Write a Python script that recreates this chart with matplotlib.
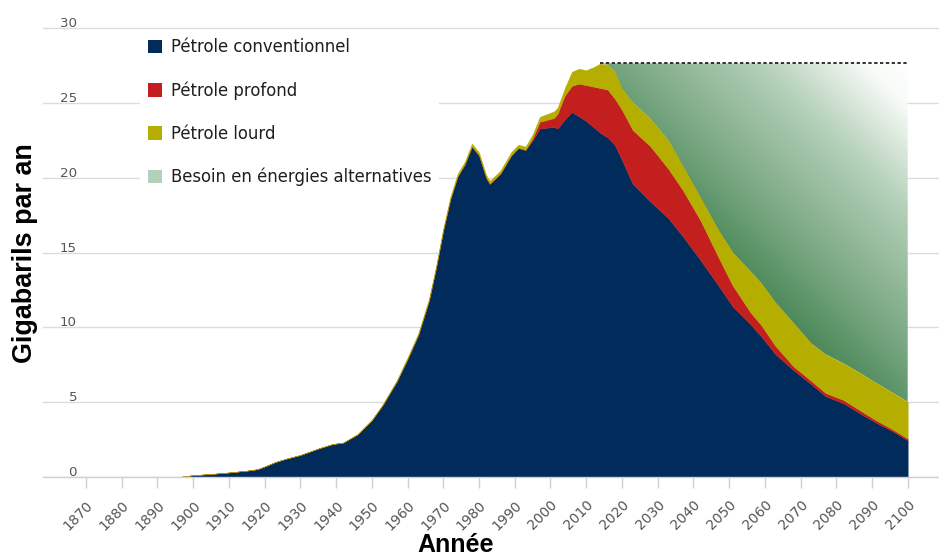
import numpy as np
import matplotlib
matplotlib.use("Agg")
import matplotlib.pyplot as plt
from matplotlib.patches import Patch
from matplotlib.colors import LinearSegmentedColormap
import matplotlib.transforms as mtransforms

# ---------------- data (Gigabarils par an) ----------------
annees = [1870, 1880, 1890, 1896, 1900, 1905, 1910, 1915, 1918, 1920,
          1923, 1926, 1930, 1935, 1939, 1942, 1946, 1950, 1953, 1957,
          1960, 1963, 1966, 1968, 1970, 1972, 1974, 1976, 1978, 1980,
          1982, 1983, 1986, 1989, 1991, 1993, 1995, 1997, 2001, 2002,
          2004, 2006, 2008, 2010, 2012, 2014, 2016, 2018, 2020, 2023,
          2028, 2033, 2037, 2042, 2047, 2051, 2056, 2059, 2063, 2068,
          2073, 2077, 2082, 2087, 2091, 2096, 2100]

conventionnel = [0, 0, 0, 0, 0.12, 0.2, 0.3, 0.42, 0.52, 0.7,
                 1.0, 1.22, 1.47, 1.9, 2.2, 2.3, 2.85, 3.8, 4.8, 6.4,
                 7.9, 9.5, 11.8, 14.0, 16.5, 18.6, 20.1, 20.9, 22.1, 21.5,
                 20.0, 19.6, 20.3, 21.5, 22.0, 21.85, 22.5, 23.3, 23.4, 23.3,
                 23.9, 24.4, 24.1, 23.8, 23.4, 23.0, 22.7, 22.2, 21.2, 19.6,
                 18.4, 17.3, 16.1, 14.5, 12.8, 11.4, 10.2, 9.4, 8.2, 7.15,
                 6.2, 5.4, 4.93, 4.2, 3.65, 3.03, 2.45]

profond = [0, 0, 0, 0, 0, 0, 0, 0, 0, 0,
           0, 0, 0, 0, 0, 0, 0, 0, 0, 0,
           0, 0, 0, 0, 0, 0, 0, 0, 0, 0,
           0, 0, 0, 0, 0, 0.02, 0.15, 0.45, 0.6, 1.0,
           1.6, 1.75, 2.2, 2.4, 2.7, 3.0, 3.2, 3.1, 3.35, 3.6,
           3.7, 3.3, 3.1, 2.65, 1.9, 1.4, 0.8, 0.75, 0.55, 0.25,
           0.22, 0.22, 0.22, 0.2, 0.16, 0.12, 0.12]

lourd = [0, 0, 0, 0, 0.01, 0.01, 0.01, 0.01, 0.01, 0.01,
         0.01, 0.01, 0.01, 0.01, 0.01, 0.01, 0.02, 0.03, 0.05, 0.08,
         0.1, 0.12, 0.14, 0.15, 0.16, 0.17, 0.18, 0.18, 0.2, 0.2,
         0.2, 0.2, 0.2, 0.22, 0.22, 0.22, 0.25, 0.33, 0.45, 0.4,
         0.5, 0.95, 1.0, 1.0, 1.3, 1.65, 1.65, 1.8, 1.4, 1.85,
         1.85, 1.9, 1.6, 1.5, 1.8, 2.2, 2.75, 2.8, 2.9, 2.9,
         2.5, 2.58, 2.45, 2.5, 2.5, 2.45, 2.46]

niveau_besoin = 27.65      # plateau (dashed line)
annee_pic = 2014           # start of the "besoin" area

x_ticks = [1870, 1880, 1890, 1900, 1910, 1920, 1930, 1940, 1950, 1960, 1970, 1980,
           1990, 2000, 2010, 2020, 2030, 2040, 2050, 2060, 2070, 2080, 2090, 2100]
x_tick_labels = ["1870", "1880", "1890", "1900", "1910", "1920", "1930", "1940",
                 "1950", "1960", "1970", "1980", "1990", "2000", "2010", "2020",
                 "2030", "2040", "2050", "2060", "2070", "2080", "2090", "2100"]
y_ticks = [0, 5, 10, 15, 20, 25, 30]
y_tick_labels = ["0", "5", "10", "15", "20", "25", "30"]

legend_labels = ["Pétrole conventionnel", "Pétrole profond", "Pétrole lourd",
                 "Besoin en énergies alternatives"]

# ---------------- style ----------------
BLUE = "#012b5b"
RED = "#c21f1e"
YEL = "#b5ad00"
GREEN_LEG = "#b3d1b9"
GRID = "#dcdcdc"
TICKC = "#555555"

W, H = 939, 558
fig = plt.figure(figsize=(W / 100, H / 100), dpi=100)
ax = fig.add_axes([43 / W, 81 / H, 1 - 43 / W, (558 - 81 - 22.3) / H])
XLIM = (1857.96, 2108.76)
YLIM = (0, 30.4)

a = np.array(annees, float)
c = np.array(conventionnel, float)
p = np.array(profond, float)
l = np.array(lourd, float)
total = c + p + l

ax.stackplot(a, c, p, l, colors=[BLUE, RED, YEL], linewidth=0.25,
             edgecolor="face", zorder=2)

# gradient "besoin" area
mask = a >= annee_pic
poly = ax.fill_between(a[mask], total[mask], niveau_besoin, facecolor="none",
                       edgecolor="none", zorder=1.5)
ax.set_xlim(*XLIM)
ax.set_ylim(*YLIM)
bb = ax.get_window_extent()
ppy = bb.width / (XLIM[1] - XLIM[0])
ppu = bb.height / (YLIM[1] - YLIM[0])
xs = np.linspace(a[mask][0], a[-1], 500)
ys = np.linspace(0, niveau_besoin, 400)
X, Y = np.meshgrid(xs, ys)
d = ((a[-1] - X) * ppy + (niveau_besoin - Y) * ppu) / np.sqrt(2)
t = np.clip(d / 268.0, 0, 1)
cmap = LinearSegmentedColormap.from_list(
    "besoin", [(0, "#ffffff"), (0.12, "#f6faf6"), (0.4, "#b2cfb7"),
               (0.75, "#7aa883"), (1.0, "#4b8858")])
im = ax.imshow(t, extent=[xs[0], xs[-1], 0, niveau_besoin], origin="lower",
               cmap=cmap, vmin=0, vmax=1, aspect="auto",
               interpolation="bilinear", zorder=1.5)
im.set_clip_path(poly.get_paths()[0], transform=ax.transData)

ax.hlines(niveau_besoin, annee_pic, a[-1], colors="#111111",
          linestyles=(0, (2, 1.5)), lw=1.2, zorder=3)

ax.set_xlim(*XLIM)
ax.set_ylim(*YLIM)

# grid / axes
ax.set_axisbelow(True)
ax.set_yticks(y_ticks)
ax.yaxis.grid(True, color=GRID, lw=1)
ax.tick_params(axis="y", length=0, labelleft=False)
for s in ["top", "right", "left"]:
    ax.spines[s].set_visible(False)
ax.spines["bottom"].set_color("#d0d0d0")
ax.spines["bottom"].set_linewidth(1)

ax.set_xticks(x_ticks)
ax.set_xticklabels(x_tick_labels, rotation=45, ha="right", va="top",
                   rotation_mode="anchor", fontsize=10, color=TICKC)
ax.tick_params(axis="x", length=8, width=1, color="#d0d0d0", pad=7)

off = mtransforms.ScaledTranslation(34 / 100, 1 / 100, fig.dpi_scale_trans)
for v, lab in zip(y_ticks, y_tick_labels):
    ax.text(0, v, lab, transform=ax.get_yaxis_transform() + off,
            ha="right", va="baseline", fontsize=9.6, color=TICKC)

# legend
handles = [Patch(facecolor=col, edgecolor="none", label=lab)
           for col, lab in zip([BLUE, RED, YEL, GREEN_LEG], legend_labels)]
leg = ax.legend(handles=handles, loc="upper left",
                bbox_to_anchor=(140 / W, 1 - 30 / H), bbox_transform=fig.transFigure,
                frameon=True, facecolor="white", edgecolor="none", framealpha=1,
                fancybox=False, fontsize=11.9, handlelength=0.85, handleheight=0.85,
                handletextpad=0.5, labelspacing=1.51, borderpad=0.5,
                borderaxespad=0, labelcolor="#1e1e1e")
leg.set_zorder(5)

fig.text(456 / W, 0.5 / H, "Année", ha="center", va="bottom", fontsize=18,
         fontweight="bold", family="Liberation Sans")
fig.text(25 / W, 1 - 253 / H, "Gigabarils par an", rotation=90, ha="center",
         va="center", fontsize=19.4, fontweight="bold", family="Liberation Sans")

fig.savefig("out.png", dpi=100)
